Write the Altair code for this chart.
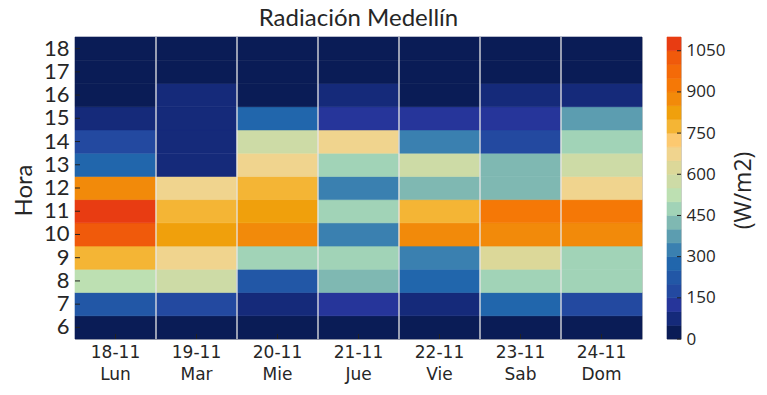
import altair as alt
import pandas as pd

# ---------------- data ----------------
dias = ["18-11", "19-11", "20-11", "21-11", "22-11", "23-11", "24-11"]
nombres = ["Lun", "Mar", "Mie", "Jue", "Vie", "Sab", "Dom"]
horas = [6, 7, 8, 9, 10, 11, 12, 13, 14, 15, 16, 17, 18]

# W/m2 per hour (6 .. 18)
lun = [15, 225, 520, 780, 1020, 1075, 870, 270, 170, 80, 10, 5, 0]
mar = [12, 180, 575, 670, 820, 770, 680, 95, 85, 70, 55, 20, 5]
mie = [10, 65, 240, 480, 880, 830, 790, 690, 580, 280, 30, 8, 0]
jue = [14, 130, 430, 470, 330, 490, 320, 460, 660, 140, 60, 15, 0]
vie = [12, 75, 260, 340, 860, 760, 420, 560, 310, 120, 40, 10, 0]
sab = [15, 285, 475, 625, 890, 920, 440, 410, 160, 135, 55, 12, 0]
dom = [14, 175, 470, 495, 870, 930, 670, 570, 465, 380, 60, 10, 0]
series = [lun, mar, mie, jue, vie, sab, dom]

# colour levels (22 bins of 50 W/m2, 0 .. 1100)
colores = ["#0a1c56", "#152a7a", "#26359a", "#2349a0", "#2257a6", "#2166ac",
           "#3a80b0", "#5c9db0", "#7fb8b2", "#a1d3b7", "#bde0b2", "#cddba6",
           "#dcd899", "#f0d48e", "#fcc970", "#f4b535", "#f0a00c", "#f28a0a",
           "#f57806", "#f46a08", "#f05a0b", "#e83c12"]
bordes = [0, 50, 100, 150, 200, 250, 300, 350, 400, 450, 500, 550, 600, 650,
          700, 750, 800, 850, 900, 950, 1000, 1050, 1100]
ticks_cb = [0, 150, 300, 450, 600, 750, 900, 1050]

# ---------------- tables ----------------
etiquetas = [f"{d} {n}" for d, n in zip(dias, nombres)]
rows = []
for et, vals in zip(etiquetas, series):
    for h, v in zip(horas, vals):
        rows.append({"dia": et, "hora": h, "rad": v})
df = pd.DataFrame(rows)
df_sep = pd.DataFrame({"dia": etiquetas[1:]})
df_d = pd.DataFrame({"dia": etiquetas})
df_h = pd.DataFrame({"hora": horas})
df_cb = pd.DataFrame({"lo": bordes[:-1], "hi": bordes[1:], "col": colores})
df_tk = pd.DataFrame({"v": ticks_cb})

W, H = 567, 302
TXT = "#262626"
SANS = "Lato, 'Open Sans', sans-serif"

xs = alt.Scale(paddingInner=0, paddingOuter=0)
ys = alt.Scale(paddingInner=0, paddingOuter=0)
cscale = alt.Scale(type="threshold", domain=bordes[1:-1], range=colores)

heat = alt.Chart(df).mark_rect(strokeWidth=0.6).encode(
    x=alt.X("dia:N", sort=etiquetas, scale=xs,
            axis=alt.Axis(title=None, labelExpr="split(datum.label, ' ')",
                          labelFont="DejaVu Sans", labelFontSize=17,
                          labelColor=TXT, ticks=False, domain=False,
                          labelPadding=5, labelLineHeight=22, labelAngle=0,
                          grid=False)),
    y=alt.Y("hora:O", sort="descending", scale=ys,
            axis=alt.Axis(title="Hora", labelFont=SANS,
                          labelFontSize=22, labelColor=TXT, ticks=False,
                          domain=False, labelPadding=6, grid=False,
                          titleFont=SANS, titleFontSize=24,
                          titleFontWeight="normal", titleColor=TXT,
                          titleX=-51, titleY=153, titleBaseline="middle",
                          titleAngle=270)),
    color=alt.Color("rad:Q", scale=cscale, legend=None),
    stroke=alt.Color("rad:Q", scale=cscale, legend=None),
)

seps = alt.Chart(df_sep).mark_rule(color="#e6e6e6", strokeWidth=1.3).encode(
    x=alt.X("dia:N", sort=etiquetas, bandPosition=0)
)
ytk = alt.Chart(df_h).mark_rule(color="#222222", strokeWidth=1).encode(
    y=alt.Y("hora:O", sort="descending"), x=alt.value(0), x2=alt.value(5)
)
xtk = alt.Chart(df_d).mark_rule(color="#222222", strokeWidth=1).encode(
    x=alt.X("dia:N", sort=etiquetas), y=alt.value(H), y2=alt.value(H - 5)
)

left = alt.layer(heat, seps, ytk, xtk).properties(
    width=W, height=H,
    title=alt.TitleParams("Radiación Medellín", font=SANS,
                          fontSize=24, fontWeight="normal", color=TXT,
                          anchor="middle", offset=5),
)

cb_rect = alt.Chart(df_cb).mark_rect(strokeWidth=0.6).encode(
    y=alt.Y("lo:Q", scale=alt.Scale(domain=[0, 1100], nice=False, zero=True),
            axis=alt.Axis(orient="right", values=ticks_cb, title="(W/m2)",
                          format="d",
                          ticks=False, domain=False, grid=False,
                          labelFont="Open Sans", labelFontSize=17,
                          labelColor=TXT, labelPadding=5,
                          titleFont="Open Sans", titleFontSize=23,
                          titleFontWeight="normal", titleColor=TXT,
                          titleAngle=270, titleBaseline="middle",
                          titleX=62, titleY=153)),
    y2="hi:Q",
    x=alt.value(0), x2=alt.value(14),
    color=alt.Color("col:N", scale=None),
    stroke=alt.Color("col:N", scale=None),
)
cb_tk = alt.Chart(df_tk).mark_rule(color="#222222", strokeWidth=1).encode(
    y=alt.Y("v:Q"), x=alt.value(10), x2=alt.value(14)
)
right = alt.layer(cb_rect, cb_tk).properties(width=14, height=H)

chart = alt.hconcat(left, right, spacing=23).properties(
    padding={"left": 11, "top": 6, "right": 5, "bottom": 5},
    background="white",
).configure_view(stroke="#cccccc", strokeWidth=1)

chart.save("out.html", embed_options={"renderer": "svg", "actions": False})
